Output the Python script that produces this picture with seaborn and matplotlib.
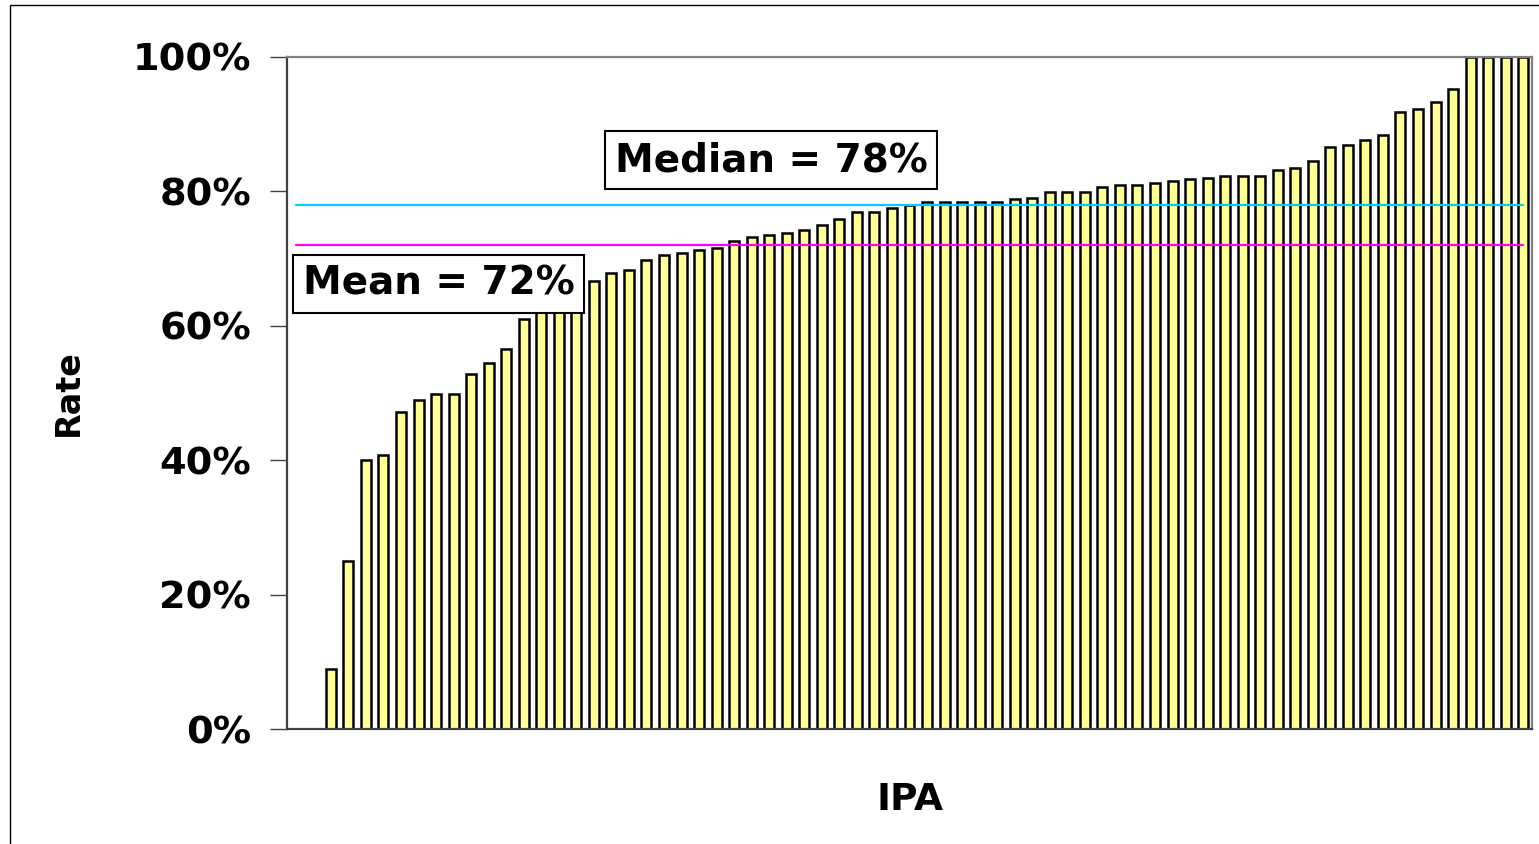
import numpy as np
import pandas as pd
import matplotlib
matplotlib.use("Agg")
import matplotlib.pyplot as plt
import seaborn as sns
from matplotlib.patches import Rectangle
from matplotlib.ticker import FuncFormatter

# ---- data (rates in %, sorted ascending; one bar per IPA) ----
rates = [0, 0, 9, 25, 40, 40.7, 47.2, 49.0, 49.9, 49.9, 52.8, 54.4, 56.5,
         61.0, 62.0, 62.5, 64.0, 66.7, 67.8, 68.3, 69.7, 70.5, 70.8, 71.3,
         71.6, 72.6, 73.2, 73.4, 73.7, 74.2, 75.0, 75.8, 76.9, 76.9, 77.5,
         77.9, 78.3, 78.3, 78.3, 78.3, 78.3, 78.8, 79.0, 79.8, 79.8, 79.8,
         80.6, 80.9, 80.9, 81.2, 81.5, 81.8, 82.0, 82.3, 82.3, 82.3, 83.1,
         83.4, 84.4, 86.6, 86.8, 87.6, 88.4, 91.7, 92.2, 93.3, 95.2,
         100, 100, 100, 100]
ipa = [f"IPA{i + 1:02d}" for i in range(len(rates))]
mean_rate = 72
median_rate = 78
y_ticks = [0, 20, 40, 60, 80, 100]

df = pd.DataFrame({"IPA": ipa, "Rate": rates})

sns.set_theme(style="white")
plt.rcParams["font.family"] = ["DejaVu Sans"]
plt.rcParams["text.color"] = "black"
plt.rcParams["axes.labelcolor"] = "black"

W, H = 1539, 844
fig = plt.figure(figsize=(W / 100, H / 100), dpi=100)
ax = fig.add_axes([287 / W, 1 - 729.3 / H, (1532 - 287) / W, (729.3 - 56.5) / H])

sns.barplot(data=df, x="IPA", y="Rate", order=ipa, color="#FFFF99",
            edgecolor="black", linewidth=1.8, width=0.57, saturation=1,
            ax=ax, zorder=2)

xs = np.arange(len(ipa))
ax.plot(xs, [median_rate] * len(ipa), color="#00CCFF", lw=1.6, zorder=3)
ax.plot(xs, [mean_rate] * len(ipa), color="#FF00FF", lw=1.6, zorder=3)

ax.set_xlim(-0.5, len(ipa) - 0.5)
ax.set_ylim(0, 100)
ax.set_yticks(y_ticks)
ax.yaxis.set_major_formatter(FuncFormatter(lambda v, p: f"{v:.0f}%"))
ax.set_xticks([])
ax.tick_params(axis="y", which="major", direction="out", length=12,
               width=1, color="#404040", pad=14, left=True,
               labelsize=27.5, labelcolor="black")
for lbl in ax.get_yticklabels():
    lbl.set_fontweight("bold")

for side in ["left", "bottom"]:
    ax.spines[side].set_color("#404040")
    ax.spines[side].set_linewidth(1.6)
for side in ["top", "right"]:
    ax.spines[side].set_color("#808080")
    ax.spines[side].set_linewidth(1.6)
    ax.spines[side].set_visible(True)

ax.set_xlabel("IPA", fontsize=27, fontweight="bold", labelpad=38, color="black")
ax.set_ylabel("Rate", fontsize=24, fontweight="bold", va="center", color="black")
ax.yaxis.set_label_coords((68 - 287) / (1532 - 287), 0.5)

box = dict(boxstyle="square,pad=0.25", facecolor="white", edgecolor="black", lw=1.5)
ax.text(0.389, 0.846, f"Median = {median_rate}%", transform=ax.transAxes,
        ha="center", va="center", fontsize=28, fontweight="bold",
        color="black", bbox=box, zorder=5)
ax.text(0.1218, 0.662, f"Mean = {mean_rate}%", transform=ax.transAxes,
        ha="center", va="center", fontsize=28, fontweight="bold",
        color="black", bbox=box, zorder=5)

fig.add_artist(Rectangle((10 / W, -0.05), 1.1, 1.05 - 5 / H,
                         transform=fig.transFigure, fill=False,
                         edgecolor="black", lw=1))

fig.savefig("out.png", dpi=100, facecolor="white")
